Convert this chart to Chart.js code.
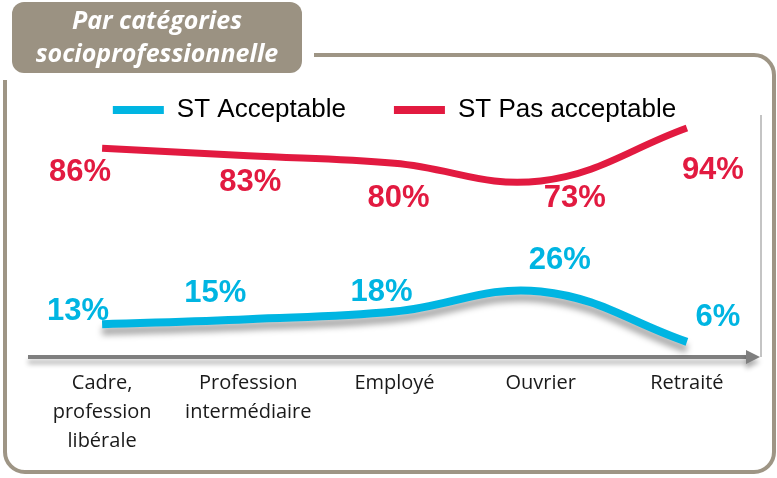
<!DOCTYPE html>
<html>
<head>
<meta charset="utf-8">
<script src="https://cdn.jsdelivr.net/npm/chart.js@4/dist/chart.umd.min.js"></script>
<style>
  html, body { margin: 0; padding: 0; background: #fff; }
  #wrap { width: 777px; height: 478px; }
</style>
</head>
<body>
<div id="wrap"><canvas id="myChart" width="777" height="478"></canvas></div>
<script>
// données
const categories = [["Cadre,", "profession", "libérale"], ["Profession", "intermédiaire"], "Employé", "Ouvrier", "Retraité"];
const acceptable = [13, 15, 18, 26, 6];
const pasAcceptable = [86, 83, 80, 73, 94];

// décalage des étiquettes (px) par point
const offsAcceptable = [[-24, -13], [-33, -26], [-13, -19], [19, -31], [31, -24]];
const offsPasAcceptable = [[-22, 24], [2, 27], [4, 35], [34, 18], [26, 42]];

const BLUE = '#00b5e2';
const RED = '#e21a40';
const FRAME = '#9e9585';

const framePlugin = {
    id: 'frame',
    beforeDraw(chart) {
        const ctx = chart.ctx;
        ctx.save();
        ctx.fillStyle = '#fff';
        ctx.fillRect(0, 0, chart.width, chart.height);

        // cadre arrondi
        ctx.strokeStyle = FRAME;
        ctx.lineWidth = 4;
        ctx.beginPath();
        ctx.moveTo(314, 55);
        ctx.lineTo(754, 55);
        ctx.arcTo(774, 55, 774, 75, 20);
        ctx.lineTo(774, 452);
        ctx.arcTo(774, 472, 754, 472, 20);
        ctx.lineTo(25, 472);
        ctx.arcTo(5, 472, 5, 452, 20);
        ctx.lineTo(5, 80);
        ctx.stroke();

        // titre
        ctx.fillStyle = '#9b9282';
        ctx.beginPath();
        ctx.roundRect(12, 2, 290, 71, 12);
        ctx.fill();
        ctx.fillStyle = '#fff';
        ctx.font = 'italic bold 25px "Open Sans"';
        ctx.textAlign = 'center';
        ctx.textBaseline = 'middle';
        ctx.fillText('Par catégories', 157, 22);
        ctx.fillText('socioprofessionnelle', 157, 55);
        ctx.restore();
    },
    beforeDatasetsDraw(chart) {
        const ctx = chart.ctx;
        const a = chart.chartArea;
        ctx.save();
        // ligne verticale droite
        ctx.strokeStyle = '#b0b0b0';
        ctx.lineWidth = 1.5;
        ctx.beginPath();
        ctx.moveTo(761, 115);
        ctx.lineTo(761, a.bottom);
        ctx.stroke();

        // axe avec flèche
        ctx.shadowColor = 'rgba(0,0,0,0.3)';
        ctx.shadowBlur = 5;
        ctx.shadowOffsetY = 5;
        ctx.strokeStyle = '#7f7f7f';
        ctx.fillStyle = '#7f7f7f';
        ctx.lineWidth = 4;
        ctx.beginPath();
        ctx.moveTo(a.left - 1, a.bottom);
        ctx.lineTo(a.right - 12, a.bottom);
        ctx.stroke();
        ctx.beginPath();
        ctx.moveTo(a.right - 14, a.bottom - 7);
        ctx.lineTo(a.right, a.bottom);
        ctx.lineTo(a.right - 14, a.bottom + 7);
        ctx.closePath();
        ctx.fill();
        ctx.restore();
    },
    beforeDatasetDraw(chart, args) {
        if (args.index !== 0) return;
        const ctx = chart.ctx;
        ctx.save();
        ctx.shadowColor = 'rgba(0,0,0,0.35)';
        ctx.shadowBlur = 6;
        ctx.shadowOffsetY = 7;
    },
    afterDatasetDraw(chart, args) {
        if (args.index !== 0) return;
        chart.ctx.restore();
    },
    afterDatasetsDraw(chart) {
        const ctx = chart.ctx;
        ctx.save();
        ctx.font = 'bold 31px "Liberation Sans", Arial';
        ctx.textAlign = 'center';
        ctx.textBaseline = 'middle';
        chart.data.datasets.forEach((ds, i) => {
            const meta = chart.getDatasetMeta(i);
            const offs = i === 0 ? offsAcceptable : offsPasAcceptable;
            ctx.fillStyle = ds.borderColor;
            meta.data.forEach((pt, j) => {
                ctx.fillText(ds.data[j] + '%', pt.x + offs[j][0], pt.y + offs[j][1]);
            });
        });
        ctx.restore();
    }
};

const canvas = document.getElementById('myChart');
new Chart(canvas.getContext('2d'), {
    type: 'line',
    data: {
        labels: categories,
        datasets: [{
            label: 'ST Acceptable',
            data: acceptable,
            borderColor: BLUE,
            backgroundColor: BLUE,
            borderWidth: 8,
            tension: 0.4,
            pointRadius: 0,
            clip: false,
            yAxisID: 'y'
        }, {
            label: 'ST Pas acceptable',
            data: pasAcceptable,
            borderColor: RED,
            backgroundColor: RED,
            borderWidth: 7,
            tension: 0.4,
            pointRadius: 0,
            clip: false,
            yAxisID: 'y2'
        }]
    },
    plugins: [framePlugin],
    options: {
        responsive: false,
        animation: false,
        layout: { padding: { top: 49, left: 29, right: 17, bottom: 10 } },
        plugins: {
            tooltip: { enabled: false },
            legend: {
                position: 'top',
                labels: {
                    boxWidth: 51,
                    boxHeight: 8,
                    padding: 48,
                    color: '#111',
                    font: { family: '"Liberation Sans", Arial', size: 26 },
                    generateLabels: chart => chart.data.datasets.map((ds, i) => ({
                        text: ds.label,
                        fillStyle: ds.borderColor,
                        strokeStyle: ds.borderColor,
                        lineWidth: 0,
                        hidden: false,
                        datasetIndex: i
                    }))
                }
            }
        },
        scales: {
            x: {
                offset: true,
                grid: { display: false, drawTicks: false },
                border: { display: false },
                ticks: {
                    padding: 12,
                    maxRotation: 0,
                    autoSkip: false,
                    color: '#1a1a1a',
                    font: { family: '"Open Sans"', size: 20, lineHeight: 1.45 }
                }
            },
            y: { display: false, min: 0, max: 88.8 },
            y2: { display: false, min: 3.2, max: 92 }
        }
    }
});
</script>
</body>
</html>
